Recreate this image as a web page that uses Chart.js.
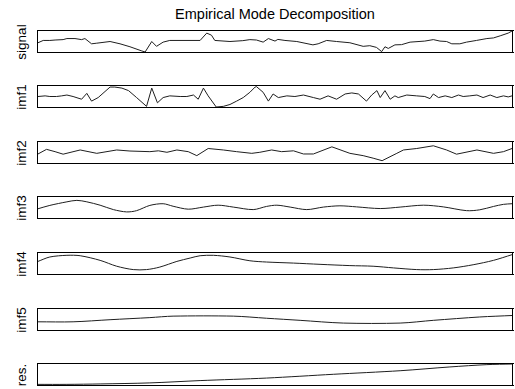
<!DOCTYPE html>
<html><head><meta charset="utf-8">
<script src="https://cdn.jsdelivr.net/npm/chart.js@4.4.0/dist/chart.umd.min.js"></script>
<style>
body{margin:0;background:#fff;width:515px;height:389px;overflow:hidden;position:relative;font-family:"Liberation Sans",Arial,sans-serif;}
.title{position:absolute;left:38px;width:474px;top:6px;text-align:center;font-size:14.5px;line-height:16px;color:#000;}
.lab{position:absolute;font-size:13.5px;line-height:14px;color:#000;white-space:nowrap;transform:translate(-50%,-50%) rotate(-90deg);}
canvas{position:absolute;}
</style></head><body>
<div class="title">Empirical Mode Decomposition</div>
<script>
// ---- data (time axis 0..100, values normalised to each panel's range) ----
const panelNames = ["signal", "imf1", "imf2", "imf3", "imf4", "imf5", "res."];

const signalT = [0,1.1,2.5,3.6,5.3,6.1,7.8,9.2,9.9,11.3,12.4,15.2,17.3,19.4,21.9,22.6,24.0,25.0,26.4,27.8,34.2,35.6,36.6,37.3,40.5,43.2,44.7,46.1,47.5,48.6,50.0,50.6,52.1,54.6,58.0,59.1,60.9,63.0,65.8,68.6,70.0,71.4,72.5,73.2,73.9,75.3,76.7,78.5,81.6,83.4,84.8,86.2,87.3,89.0,90.4,92.5,94.7,96.1,97.5,99.2,100];
const signalV = [0.44,0.55,0.55,0.57,0.59,0.64,0.64,0.59,0.64,0.39,0.42,0.50,0.39,0.25,0.05,0.0,0.50,0.27,0.47,0.55,0.55,0.90,0.80,0.55,0.50,0.54,0.59,0.57,0.47,0.64,0.52,0.60,0.55,0.50,0.34,0.39,0.55,0.50,0.44,0.27,0.30,0.22,0.02,0.25,0.17,0.34,0.35,0.47,0.52,0.59,0.52,0.50,0.39,0.39,0.47,0.55,0.64,0.67,0.77,0.90,1.00];

const imf1T = [0,1.5,2.5,3.9,5.0,6.1,7.4,9.2,10.3,11.3,12.7,15.2,16.2,17.7,19.1,20.8,22.9,24.0,25.2,26.4,27.8,30.0,31.4,32.8,33.8,34.9,35.9,37.6,39.1,40.5,41.9,43.3,44.7,45.8,46.1,47.5,48.6,49.6,50.7,52.5,54.2,56.0,58.1,59.5,61.2,63.0,64.8,66.2,67.6,69.3,70.4,71.5,72.2,73.2,74.3,75.3,76.0,77.8,79.9,81.6,82.7,83.4,84.5,85.9,87.3,88.7,89.7,91.1,92.6,93.9,95.4,96.8,98.2,99.2,100];
const imf1V = [0.5,0.53,0.5,0.5,0.53,0.57,0.5,0.37,0.65,0.28,0.45,0.95,0.95,0.9,0.78,0.45,0.03,0.9,0.2,0.45,0.53,0.5,0.5,0.57,0.37,0.9,0.53,0.0,0.03,0.12,0.28,0.45,0.7,0.95,0.97,0.7,0.28,0.62,0.45,0.53,0.5,0.57,0.45,0.37,0.53,0.37,0.62,0.67,0.62,0.28,0.57,0.78,0.45,0.78,0.37,0.53,0.45,0.57,0.53,0.5,0.4,0.62,0.45,0.53,0.45,0.57,0.5,0.53,0.57,0.45,0.57,0.45,0.53,0.48,0.53];

const imf2T = [0,1.8,3.6,5.3,8.9,12.4,16.6,19.4,23.6,25.4,27.2,29.3,31.7,33.5,35.9,39.1,41.9,45.1,46.8,49.3,51.4,53.9,56.0,58.1,62.0,65.8,68.6,70.7,72.6,75.7,77.1,79.9,83.4,86.2,88.3,92.6,96.1,98.2,100];
const imf2V = [0.43,0.65,0.54,0.42,0.62,0.46,0.62,0.57,0.54,0.58,0.51,0.62,0.54,0.35,0.69,0.62,0.54,0.46,0.51,0.62,0.54,0.58,0.43,0.43,0.77,0.46,0.35,0.23,0.11,0.46,0.62,0.69,0.82,0.62,0.42,0.62,0.46,0.54,0.69];

const imf3T = [0,2.5,6.1,8.2,10.3,13.1,15.9,18.7,20.8,23.6,26.4,28.5,31.7,34.9,38.0,41.2,45.4,48.2,50.4,53.2,56.7,60.2,63.7,67.2,72.2,76.4,81.3,85.5,90.4,93.2,96.1,98.2,100];
const imf3V = [0.44,0.6,0.77,0.84,0.77,0.61,0.40,0.29,0.35,0.6,0.68,0.56,0.42,0.52,0.61,0.52,0.40,0.55,0.61,0.52,0.40,0.52,0.58,0.53,0.45,0.52,0.61,0.53,0.35,0.39,0.55,0.65,0.68];

const imf4T = [0,2.5,6.1,8.9,13.1,16.6,20.1,22.9,25.7,29.3,32.1,34.2,37.0,40.5,44.7,48.2,53.9,59.5,65.8,70.7,75.0,79.9,83.4,87.6,91.8,96.1,100];
const imf4V = [0.6,0.81,0.89,0.87,0.65,0.37,0.21,0.21,0.33,0.6,0.76,0.87,0.89,0.81,0.63,0.57,0.52,0.46,0.40,0.37,0.29,0.21,0.21,0.29,0.44,0.65,0.92];

const imf5T = [0,7.4,15.2,23.6,28.5,41.2,48.2,55.3,64.4,76.4,83.4,93.2,100];
const imf5V = [0.39,0.39,0.49,0.59,0.66,0.66,0.56,0.46,0.33,0.33,0.46,0.62,0.69];

const resT = [0,6.1,13.1,23.6,34.2,48.2,62.3,76.4,86.9,94.7,100];
const resV = [0.03,0.03,0.05,0.1,0.21,0.33,0.51,0.68,0.86,0.97,1.0];

// ---- layout ----
const series = [[signalT,signalV,0],[imf1T,imf1V,0],[imf2T,imf2V,0],[imf3T,imf3V,0.3],[imf4T,imf4V,0.3],[imf5T,imf5V,0.3],[resT,resV,0.3]];
const panelTop = [31, 86, 142, 197, 253, 309, 364];
const panelH = 21, panelL = 38, panelW = 474;

const framePlugin = {
  id: 'frame',
  afterDraw(chart) {
    const a = chart.chartArea, ctx = chart.ctx;
    const l = Math.round(a.left), t = Math.round(a.top), r = Math.round(a.right), b = Math.round(a.bottom);
    ctx.save();
    ctx.strokeStyle = '#000';
    ctx.lineWidth = 1;
    ctx.strokeRect(l - 0.5, t - 0.5, r - l + 1, b - t + 1);
    // small right-hand tick stubs
    ctx.beginPath();
    ctx.moveTo(r, t - 0.5); ctx.lineTo(r + 2, t - 0.5);
    ctx.moveTo(r, b + 0.5); ctx.lineTo(r + 2, b + 0.5);
    ctx.stroke();
    ctx.restore();
  }
};

series.forEach((s, i) => {
  const [T, V, tension] = s;
  const cv = document.createElement('canvas');
  cv.width = panelW + 4; cv.height = panelH + 4;
  cv.style.left = (panelL - 2) + 'px';
  cv.style.top = (panelTop[i] - 2) + 'px';
  cv.style.width = (panelW + 4) + 'px';
  cv.style.height = (panelH + 4) + 'px';
  document.body.appendChild(cv);

  const lab = document.createElement('div');
  lab.className = 'lab';
  lab.textContent = panelNames[i];
  lab.style.left = '22px';
  lab.style.top = (panelTop[i] + panelH / 2) + 'px';
  document.body.appendChild(lab);

  new Chart(cv, {
    type: 'line',
    data: {
      datasets: [{
        data: T.map((t, k) => ({x: t, y: V[k]})),
        borderColor: '#1e1e1e',
        borderWidth: 1,
        pointRadius: 0,
        tension: tension,
        fill: false
      }]
    },
    options: {
      responsive: false,
      devicePixelRatio: 1,
      animation: false,
      layout: {padding: 2},
      plugins: {legend: {display: false}, tooltip: {enabled: false}, title: {display: false}},
      scales: {
        x: {type: 'linear', min: 0, max: 100, display: false},
        y: {type: 'linear', min: 0, max: 1, display: false}
      }
    },
    plugins: [framePlugin]
  });
});
</script>
</body></html>
